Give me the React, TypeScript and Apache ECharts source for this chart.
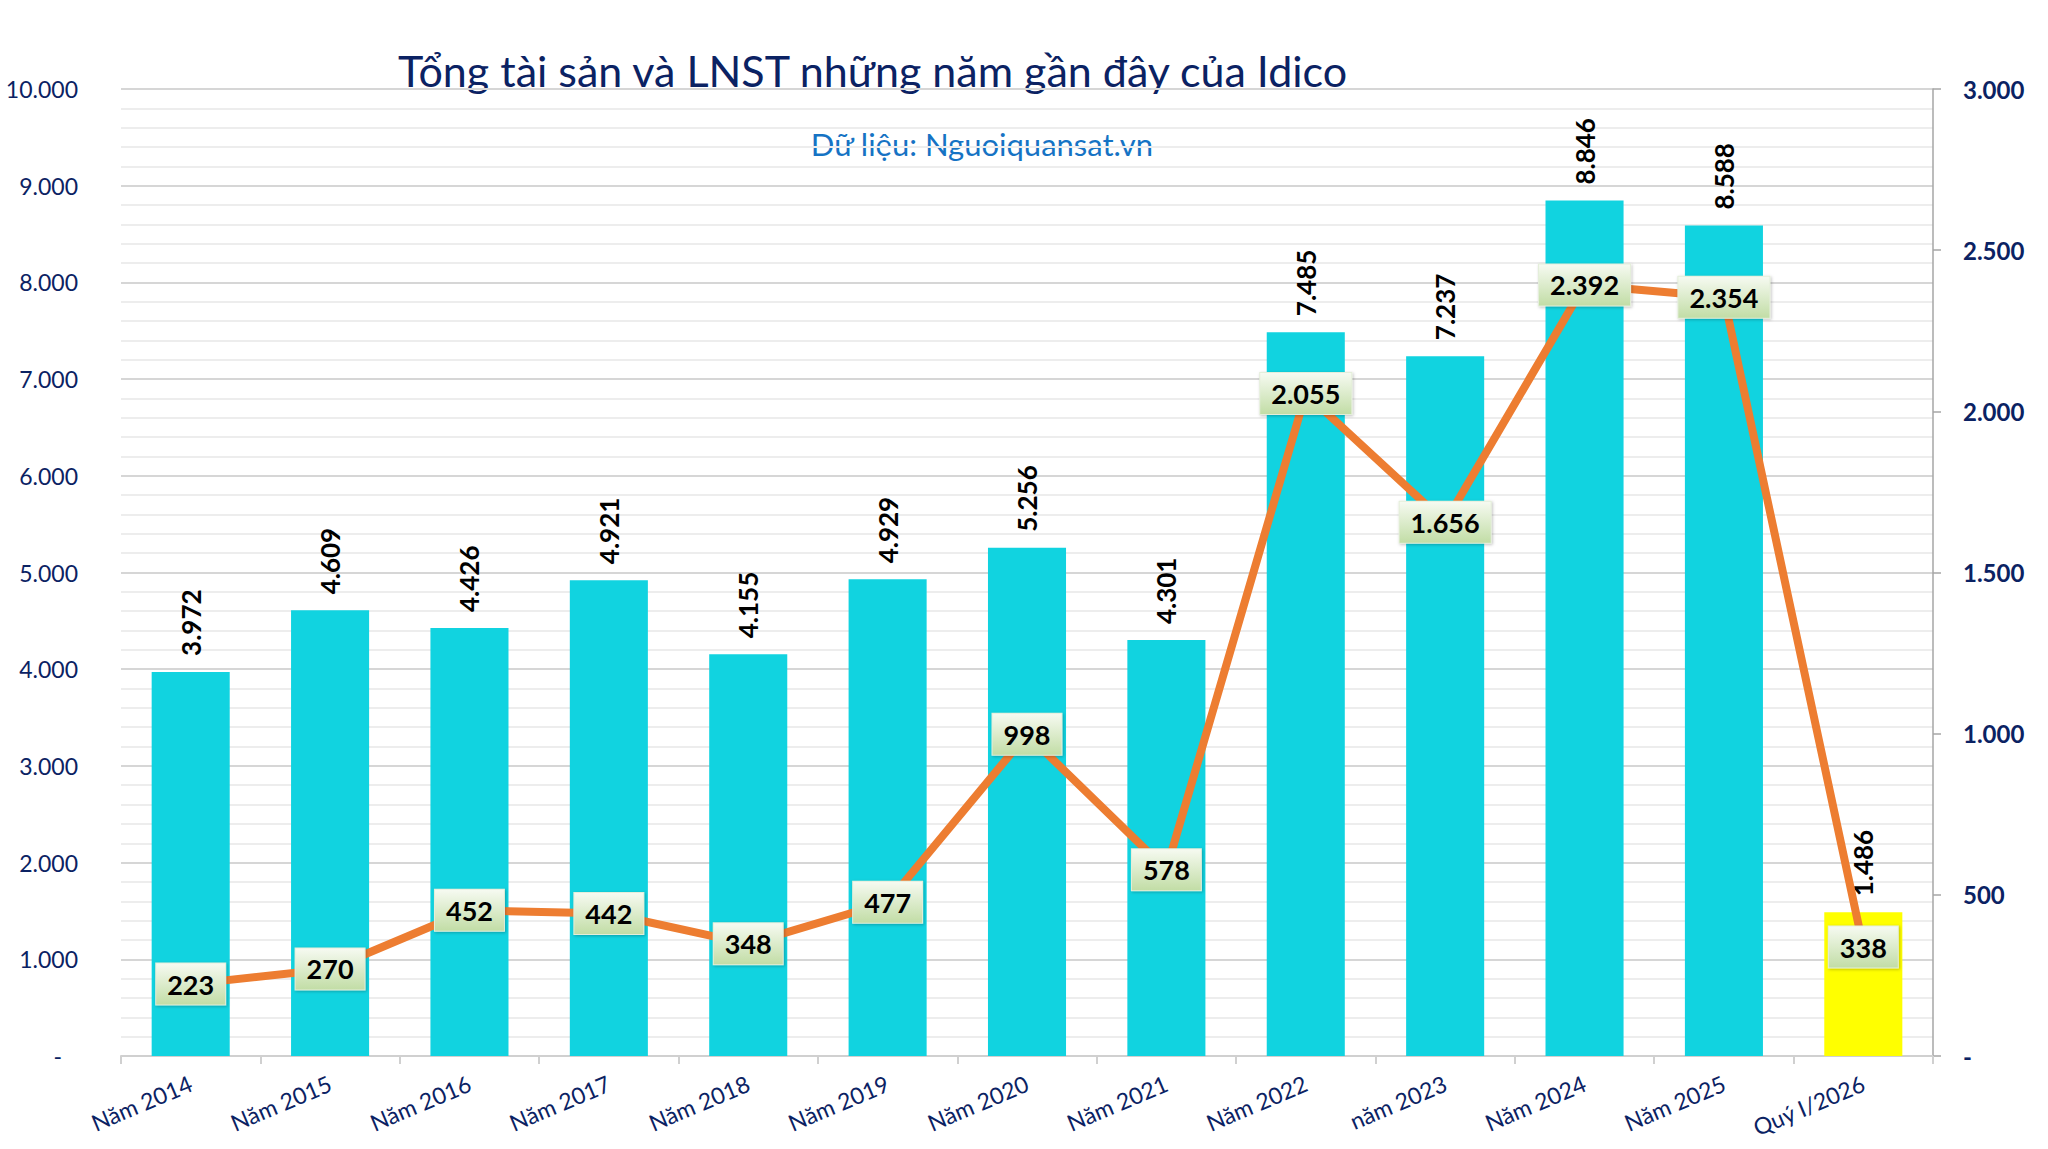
import React, { useEffect, useRef } from "react";
import * as echarts from "echarts";

// Categories (years / quarter)
const categories = [
  "Năm 2014",
  "Năm 2015",
  "Năm 2016",
  "Năm 2017",
  "Năm 2018",
  "Năm 2019",
  "Năm 2020",
  "Năm 2021",
  "Năm 2022",
  "năm 2023",
  "Năm 2024",
  "Năm 2025",
  "Quý I/2026",
];

// Total assets (tỷ đồng) - bars, left axis
const totalAssets = [3972, 4609, 4426, 4921, 4155, 4929, 5256, 4301, 7485, 7237, 8846, 8588, 1486];

// Profit after tax (tỷ đồng) - line, right axis
const profitAfterTax = [223, 270, 452, 442, 348, 477, 998, 578, 2055, 1656, 2392, 2354, 338];

const titleText = "Tổng tài sản và LNST những năm gần đây của Idico";
const sourceText = "Dữ liệu: Nguoiquansat.vn";

const FONT = "Lato, 'Noto Sans', sans-serif";
const NAVY = "#0B2263";

const fmt = (n: number) => String(n).replace(/\B(?=(\d{3})+(?!\d))/g, ".");

export default function App() {
  const ref = useRef<HTMLDivElement>(null);

  useEffect(() => {
    document.body.style.margin = "0";
    const chart = echarts.init(ref.current!, null, { renderer: "svg" });

    const barData = totalAssets.map((v, i) =>
      i === totalAssets.length - 1 ? { value: v, itemStyle: { color: "#FFFF00" } } : v
    );

    chart.setOption({
      animation: false,
      backgroundColor: "#ffffff",
      textStyle: { fontFamily: FONT },
      grid: { left: 121, right: 115, top: 89, bottom: 93, containLabel: false },
      graphic: [
        {
          type: "text",
          x: 398,
          y: 70,
          style: {
            text: titleText,
            font: `43px ${FONT}`,
            fill: NAVY,
            textVerticalAlign: "middle",
          },
        },
        {
          type: "text",
          x: 982,
          y: 144,
          style: {
            text: sourceText,
            font: `31px ${FONT}`,
            fill: "#1673C4",
            textAlign: "center",
            textVerticalAlign: "middle",
          },
        },
      ],
      xAxis: {
        type: "category",
        data: categories,
        boundaryGap: true,
        axisLine: { show: true, lineStyle: { color: "#D0D0D0", width: 2 } },
        axisTick: { show: true, length: 8, lineStyle: { color: "#D0D0D0", width: 2 } },
        axisLabel: {
          interval: 0,
          rotate: 23,
          margin: 26,
          fontSize: 23,
          color: NAVY,
          fontFamily: FONT,
        },
      },
      yAxis: [
        {
          type: "value",
          min: 0,
          max: 10000,
          interval: 1000,
          axisLine: { show: false },
          axisTick: { show: false },
          axisLabel: {
            margin: 43,
            fontSize: 23,
            color: NAVY,
            fontFamily: FONT,
            formatter: (v: number) => (v === 0 ? "{d|-}" : fmt(v)),
            rich: { d: { fontSize: 23, color: NAVY, padding: [0, 16, 0, 0] } },
          },
          splitLine: { show: true, lineStyle: { color: "#D6D6D6", width: 2 } },
          minorTick: { show: false, splitNumber: 5 },
          minorSplitLine: { show: true, lineStyle: { color: "#EDEDED", width: 2 } },
        },
        {
          type: "value",
          min: 0,
          max: 3000,
          interval: 500,
          position: "right",
          axisLine: { show: true, lineStyle: { color: "#A6A6A6", width: 1.5 } },
          axisTick: { show: true, length: 8, lineStyle: { color: "#A6A6A6", width: 1.5 } },
          axisLabel: {
            margin: 30,
            fontSize: 24,
            fontWeight: "bold",
            color: NAVY,
            fontFamily: FONT,
            formatter: (v: number) => (v === 0 ? "-" : fmt(v)),
          },
          splitLine: { show: false },
        },
      ],
      series: [
        {
          name: "Tổng tài sản",
          type: "bar",
          yAxisIndex: 0,
          data: barData,
          barCategoryGap: "44%",
          itemStyle: { color: "#11D3E0" },
          label: {
            show: true,
            position: "top",
            rotate: 90,
            align: "left",
            verticalAlign: "middle",
            distance: 16,
            fontSize: 26,
            fontWeight: "bold",
            color: "#000000",
            fontFamily: FONT,
            formatter: (p: any) => fmt(p.value),
          },
          z: 2,
        },
        {
          name: "LNST",
          type: "line",
          yAxisIndex: 1,
          data: profitAfterTax,
          symbol: "circle",
          symbolSize: 1,
          showSymbol: true,
          lineStyle: { color: "#ED7D31", width: 8 },
          itemStyle: { color: "#ED7D31" },
          label: {
            show: true,
            position: "inside",
            fontSize: 27,
            fontWeight: "bold",
            color: "#000000",
            fontFamily: FONT,
            padding: [8, 11, 6, 11],
            borderColor: "#E4EEDA",
            borderWidth: 1,
            backgroundColor: {
              type: "linear",
              x: 0,
              y: 0,
              x2: 0,
              y2: 1,
              colorStops: [
                { offset: 0, color: "#F6FAF1" },
                { offset: 1, color: "#C2DDA6" },
              ],
            },
            shadowColor: "rgba(0,0,0,0.25)",
            shadowBlur: 3,
            shadowOffsetX: 1,
            shadowOffsetY: 1,
            formatter: (p: any) => fmt(p.value),
          },
          z: 3,
        },
      ],
    });

    return () => chart.dispose();
  }, []);

  return (
    <div
      ref={ref}
      style={{ position: "fixed", left: 0, top: 0, width: 2048, height: 1149 }}
    />
  );
}
